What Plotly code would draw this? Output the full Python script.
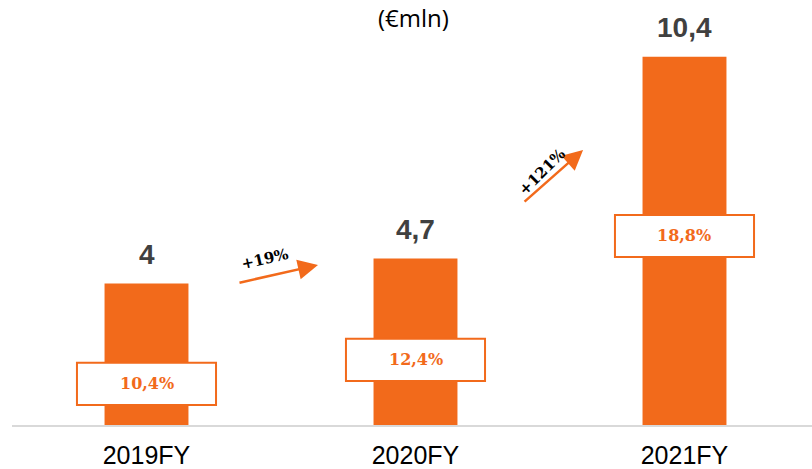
import plotly.graph_objects as go

# Revenue by fiscal year (€ mln) and margin per year
years = ["2019FY", "2020FY", "2021FY"]
revenue = [4.0, 4.7, 10.4]
revenue_labels = ["4", "4,7", "10,4"]
margin_labels = ["10,4%", "12,4%", "18,8%"]
growth_labels = ["+19%", "+121%"]

ORANGE = "#F26A1B"
GREY_TEXT = "#404040"

# vertical centre of each margin badge, in axis units
badge_centres = [1.16, 1.84, 5.34]
BADGE_W = 0.517
BADGE_H = 1.19

x_pos = list(range(len(years)))

fig = go.Figure()
fig.add_trace(go.Bar(
    x=x_pos, y=revenue, width=0.312,
    marker=dict(color=ORANGE, line=dict(width=0)),
    hoverinfo="skip",
))

# value labels above the bars
for xi, v, lab in zip(x_pos, revenue, revenue_labels):
    fig.add_annotation(x=xi, y=v, text=f"<b>{lab}</b>", showarrow=False,
                       yanchor="middle", yshift=29,
                       font=dict(family="Liberation Sans, Arial", size=28, color=GREY_TEXT))

# margin badges drawn over each bar
for xi, yc, lab in zip(x_pos, badge_centres, margin_labels):
    fig.add_shape(type="rect", xref="x", yref="y",
                  x0=xi - BADGE_W / 2, x1=xi + BADGE_W / 2,
                  y0=yc - BADGE_H / 2, y1=yc + BADGE_H / 2,
                  fillcolor="white", line=dict(color=ORANGE, width=2))
    fig.add_annotation(x=xi, y=yc, text=f"<b>{lab}</b>", showarrow=False,
                       font=dict(family="DejaVu Serif, serif", size=16, color=ORANGE))

# growth arrows between years
arrows = [
    dict(x=0.6375, y=4.52, ax=-80, ay=18),
    dict(x=1.623, y=7.77, ax=-60, ay=53),
]
for a in arrows:
    fig.add_annotation(x=a["x"], y=a["y"], ax=a["ax"], ay=a["ay"],
                       axref="pixel", ayref="pixel", text="",
                       showarrow=True, arrowhead=2, arrowsize=1.6,
                       arrowwidth=2.5, arrowcolor=ORANGE, standoff=0)

growth_pos = [
    dict(x=0.4405, y=4.69, angle=-13),
    dict(x=1.47, y=7.15, angle=-45),
]
for g, lab in zip(growth_pos, growth_labels):
    fig.add_annotation(x=g["x"], y=g["y"], text=f"<b>{lab}</b>", showarrow=False,
                       textangle=g["angle"],
                       font=dict(family="DejaVu Serif, serif", size=15, color="black"))

# unit caption
fig.add_annotation(xref="paper", yref="paper", x=(414 - 12) / 800, y=(425 - 17) / 425,
                   text="(€mln)", showarrow=False, xanchor="center", yanchor="middle",
                   borderpad=0,
                   font=dict(family="Open Sans, sans-serif", size=24, color="black"))

fig.update_layout(
    width=812, height=469,
    margin=dict(l=12, r=0, t=0, b=44, autoexpand=False),
    paper_bgcolor="white", plot_bgcolor="white",
    showlegend=False,
    xaxis=dict(range=[-0.5, 2.474], tickvals=x_pos, ticktext=years,
               showline=True, linecolor="#D9D9D9", linewidth=2,
               showgrid=False, zeroline=False, ticks="",
               automargin=False, ticklabelstandoff=7,
               tickfont=dict(family="Liberation Sans, Arial", size=25, color="black")),
    yaxis=dict(range=[0, 12.006], visible=False, showgrid=False, zeroline=False),
)

fig.write_html("out.html")
